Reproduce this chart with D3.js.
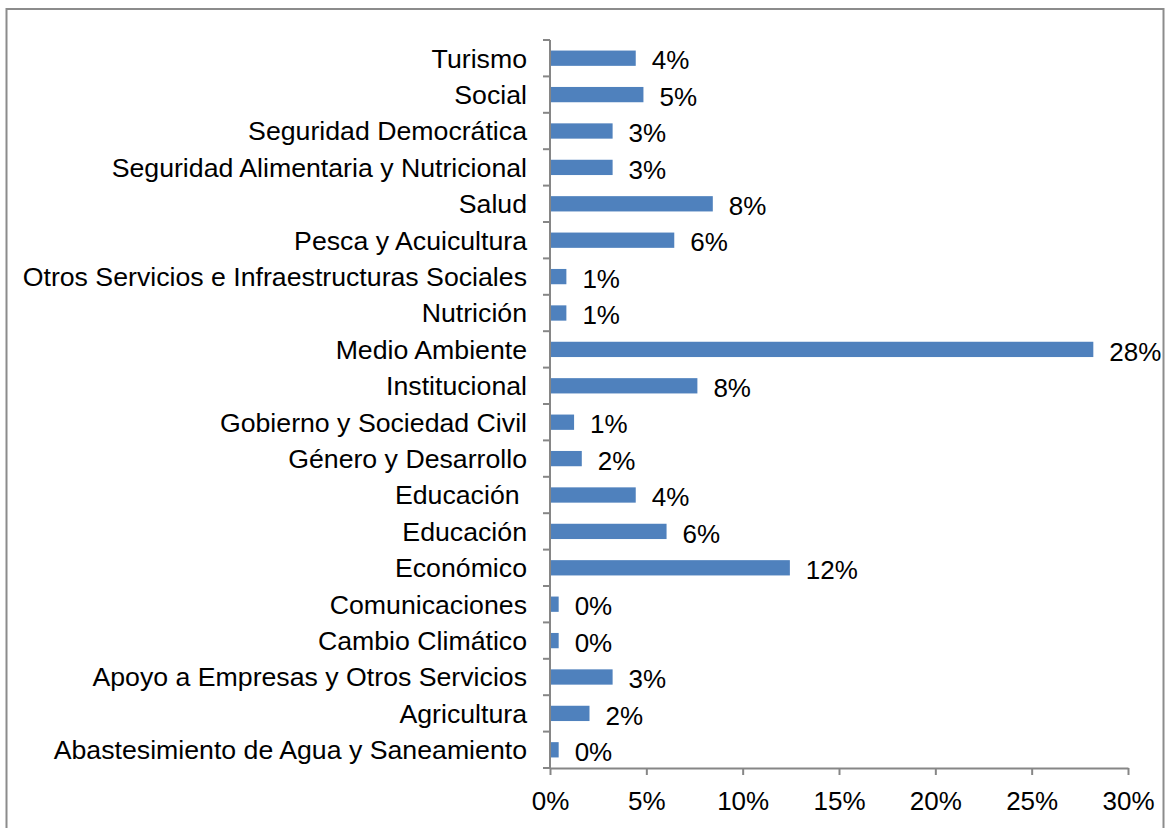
<!DOCTYPE html>
<html>
<head>
<meta charset="utf-8">
<script src="https://cdn.jsdelivr.net/npm/d3@7"></script>
<style>
    body { margin: 0; background: #fff; }
    svg { display: block; font-family: "Liberation Sans", Arial, sans-serif; }
</style>
</head>
<body>
<div id="chart"></div>
<script>
// categorias (de arriba a abajo)
var categories = [
    "Turismo", "Social", "Seguridad Democrática", "Seguridad Alimentaria y Nutricional",
    "Salud", "Pesca y Acuicultura", "Otros Servicios e Infraestructuras Sociales",
    "Nutrición", "Medio Ambiente", "Institucional", "Gobierno y Sociedad Civil",
    "Género y Desarrollo", "Educación ", "Educación", "Económico", "Comunicaciones",
    "Cambio Climático", "Apoyo a Empresas y Otros Servicios", "Agricultura",
    "Abastesimiento de Agua y Saneamiento"
];
// porcentajes
var values = [4.45, 4.85, 3.25, 3.25, 8.45, 6.45, 0.85, 0.85, 28.2, 7.65, 1.25,
    1.65, 4.45, 6.05, 12.45, 0.45, 0.45, 3.25, 2.05, 0.45];
var xTicks = [0, 5, 10, 15, 20, 25, 30];

var W = 1170, H = 828;
var margin = {top: 40, right: 42, bottom: 60, left: 550};
var width = W - margin.left - margin.right,
    height = H - margin.top - margin.bottom;
var fontSize = "26px";
var catFontSize = "26.7px";

var svg = d3.select("#chart")
    .append("svg")
    .attr("width", W)
    .attr("height", H);

// marco
svg.append("rect")
    .attr("x", 6.5).attr("y", 9)
    .attr("width", 1157).attr("height", 830)
    .attr("fill", "none")
    .attr("stroke", "#8c8c8c")
    .attr("stroke-width", 2);

var g = svg.append("g")
    .attr("transform", "translate(" + margin.left + "," + margin.top + ")");

var x = d3.scaleLinear().domain([0, 30]).range([0, width]);
var y = d3.scaleBand().domain(categories).range([0, height]).paddingInner(0.58).paddingOuter(0.29);

// eje X
var xAxis = g.append("g")
    .attr("transform", "translate(0," + height + ")")
    .call(d3.axisBottom(x).tickValues(xTicks).tickFormat(function(d) { return d + "%"; })
        .tickSize(7).tickSizeOuter(0));
xAxis.select(".domain").attr("stroke", "#868686").attr("stroke-width", 2);
xAxis.selectAll(".tick line").attr("stroke", "#868686").attr("stroke-width", 2);
xAxis.selectAll("text").attr("fill", "#000").style("font-size", fontSize)
    .attr("y", 42).attr("dy", 0);

// eje Y: marcas en los limites de cada categoria
var yAxis = g.append("g");
yAxis.append("line")
    .attr("x1", 0).attr("x2", 0).attr("y1", 0).attr("y2", height)
    .attr("stroke", "#868686").attr("stroke-width", 2);
var step = y.step();
yAxis.selectAll(".bound")
    .data(d3.range(categories.length + 1))
    .enter().append("line")
    .attr("x1", -7).attr("x2", 0)
    .attr("y1", function(i) { return i * step; })
    .attr("y2", function(i) { return i * step; })
    .attr("stroke", "#868686").attr("stroke-width", 2);
yAxis.selectAll(".cat")
    .data(categories)
    .enter().append("text")
    .attr("x", -23)
    .attr("y", function(d) { return y(d) + y.bandwidth() / 2; })
    .attr("dy", "0.35em")
    .attr("text-anchor", "end")
    .style("font-size", catFontSize)
    .style("white-space", "pre")
    .text(function(d) { return d; });

// barras
g.selectAll(".bar")
    .data(values)
    .enter().append("rect")
    .attr("x", x(0) + 1)
    .attr("y", function(d, i) { return y(categories[i]); })
    .attr("width", function(d) { return x(d) - 1; })
    .attr("height", y.bandwidth())
    .attr("fill", "#4f81bd");

// etiquetas de valor
g.selectAll(".val")
    .data(values)
    .enter().append("text")
    .attr("x", function(d) { return x(d) + 16; })
    .attr("y", function(d, i) { return y(categories[i]) + y.bandwidth() / 2 + 2; })
    .attr("dy", "0.35em")
    .style("font-size", fontSize)
    .text(function(d) { return Math.round(d) + "%"; });
</script>
</body>
</html>
